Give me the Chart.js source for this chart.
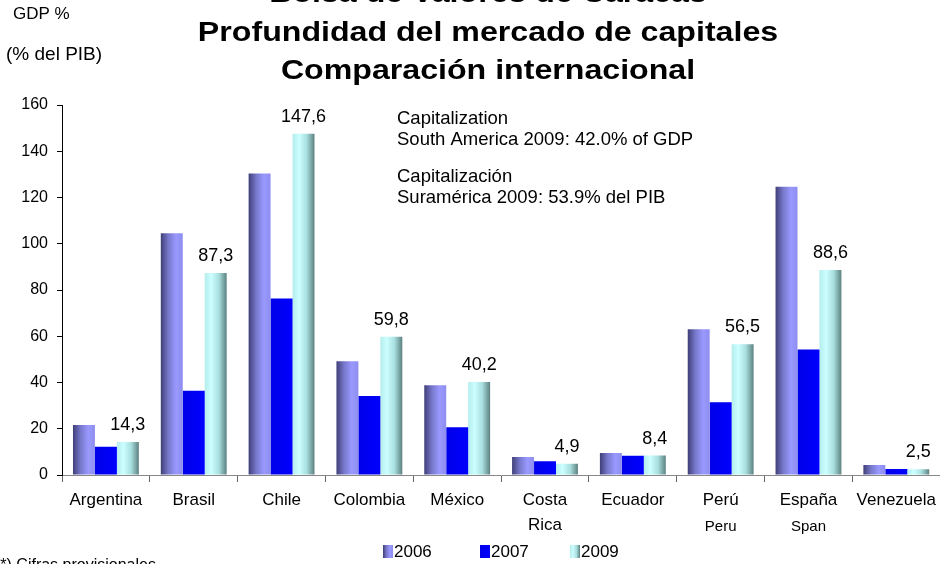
<!DOCTYPE html>
<html>
<head>
<meta charset="utf-8">
<script src="https://cdn.jsdelivr.net/npm/chart.js@4.4.1/dist/chart.umd.min.js"></script>
<style>
    html, body { margin: 0; padding: 0; background: #fff; overflow: hidden; }
    #wrap { width: 942px; height: 564px; }
</style>
</head>
<body>
<div id="wrap"><canvas id="chart" width="942" height="564"></canvas></div>
<script>
// datos del grafico
const categories = ["Argentina", "Brasil", "Chile", "Colombia", "México", ["Costa", "Rica"], "Ecuador", "Perú", "España", "Venezuela"];
const translations = ["", "", "", "", "", "", "", "Peru", "Span", ""];
const years = ["2006", "2007", "2009"];
const values2006 = [21.6, 104.5, 130.4, 49.2, 38.8, 7.8, 9.5, 63.0, 124.6, 4.3];
const values2007 = [12.2, 36.4, 76.3, 34.2, 20.7, 6.0, 8.3, 31.5, 54.3, 2.6];
const values2009 = [14.3, 87.3, 147.6, 59.8, 40.2, 4.9, 8.4, 56.5, 88.6, 2.5];
const yTicks = [0, 20, 40, 60, 80, 100, 120, 140, 160];

const titleLines = ["Bolsa de Valores de Caracas", "Profundidad del mercado de capitales", "Comparación internacional"];
const noteLines = ["Capitalization", "South America 2009: 42.0% of GDP", "Capitalización", "Suramérica 2009: 53.9% del PIB"];
const footnote = "(*) Cifras provisionales";

const FONT = '"Liberation Sans", Arial, sans-serif';

// colores en degradado (izquierda -> derecha)
const gradients = [
    [[0, "#3f3f78"], [0.35, "#7878cc"], [0.7, "#9999ff"], [1, "#8e8ef0"]],
    [[0, "#0000e8"], [1, "#0000ff"]],
    [[0, "#b4ecec"], [0.3, "#ccffff"], [0.65, "#a8dede"], [1, "#5c8080"]]
];

function makeGradient(ctx, x0, x1, stops) {
    const g = ctx.createLinearGradient(x0, 0, x1, 0);
    stops.forEach(s => g.addColorStop(s[0], s[1]));
    return g;
}

function barColor(dsIndex) {
    return function (context) {
        const chart = context.chart;
        const xs = chart.scales.x;
        if (!xs || !chart.chartArea || context.dataIndex === undefined) return gradients[dsIndex][1][1];
        const cat = xs.width / categories.length;
        const barW = cat * 0.75 / 3;
        const cx = xs.getPixelForValue(context.dataIndex) + (dsIndex - 1) * barW;
        return makeGradient(chart.ctx, cx - barW / 2, cx + barW / 2, gradients[dsIndex]);
    };
}

// textos, etiquetas y leyenda
const textPlugin = {
    id: "texts",
    afterDatasetsDraw(chart) {
        const c = chart.ctx;
        c.save();
        c.fillStyle = "#000";
        c.textAlign = "center";
        c.textBaseline = "middle";
        c.font = "18px " + FONT;
        const meta = chart.getDatasetMeta(2);
        meta.data.forEach((bar, i) => {
            const label = values2009[i].toFixed(1).replace(".", ",");
            c.fillText(label, bar.x, bar.y - 17);
        });
        c.restore();
    },
    afterDraw(chart) {
        const c = chart.ctx;
        const xs = chart.scales.x;
        c.save();
        c.fillStyle = "#000";

        // titulo (fuente algo ensanchada)
        c.textAlign = "center";
        c.textBaseline = "alphabetic";
        c.font = "bold 27px " + FONT;
        [2, 40.7, 79.3].forEach((y, i) => {
            c.save();
            c.translate(488, y);
            c.scale(1.19, 1);
            c.fillText(titleLines[i], 0, 0);
            c.restore();
        });

        c.textAlign = "left";
        c.font = "17px " + FONT;
        c.fillText("GDP %", 13, 19.3);
        c.font = "19px " + FONT;
        c.fillText("(% del PIB)", 6, 60);
        c.font = "16px " + FONT;
        c.fillText(footnote, -5, 570);

        c.textBaseline = "middle";
        c.font = "18.5px " + FONT;
        c.fillText(noteLines[0], 397, 118.5);
        c.fillText(noteLines[1], 397, 140);
        c.fillText(noteLines[2], 397, 176.5);
        c.fillText(noteLines[3], 397, 198);

        // traducciones bajo las categorias
        c.textAlign = "center";
        c.font = "15px " + FONT;
        translations.forEach((t, i) => {
            if (t) c.fillText(t, xs.getPixelForValue(i), 527);
        });

        // leyenda
        c.textAlign = "left";
        c.font = "17px " + FONT;
        const legendX = [383, 480, 570];
        years.forEach((y, i) => {
            const bx = legendX[i];
            c.fillStyle = makeGradient(c, bx, bx + 10, gradients[i]);
            c.fillRect(bx, 545, 10, 13);
            c.fillStyle = "#000";
            c.fillText(y, bx + 11, 552);
        });
        c.restore();
    }
};

const chart = new Chart(document.getElementById("chart"), {
    type: "bar",
    data: {
        labels: categories,
        datasets: [
            { label: years[0], data: values2006, backgroundColor: barColor(0) },
            { label: years[1], data: values2007, backgroundColor: barColor(1) },
            { label: years[2], data: values2009, backgroundColor: barColor(2) }
        ]
    },
    options: {
        responsive: false,
        animation: false,
        devicePixelRatio: 1,
        datasets: {
            bar: { categoryPercentage: 0.75, barPercentage: 1.0 }
        },
        layout: { padding: { top: 105, left: 0, right: 0, bottom: 29 } },
        plugins: {
            legend: { display: false },
            tooltip: { enabled: false }
        },
        scales: {
            x: {
                grid: { offset: true, drawOnChartArea: false, tickLength: 7, color: "#666" },
                border: { color: "#888" },
                ticks: {
                    color: "#000",
                    font: { family: FONT, size: 17, lineHeight: 1.47 },
                    padding: 6,
                    maxRotation: 0,
                    autoSkip: false
                },
                afterFit(scale) { scale.height = 60; }
            },
            y: {
                min: 0,
                max: 160,
                afterBuildTicks(scale) { scale.ticks = yTicks.map(v => ({ value: v })); },
                grid: { drawOnChartArea: false, tickLength: 5, color: "#000" },
                border: { color: "#000" },
                ticks: {
                    color: "#000",
                    font: { family: FONT, size: 16 },
                    padding: 9
                },
                afterFit(scale) { scale.width = 62; }
            }
        }
    },
    plugins: [textPlugin]
});
</script>
</body>
</html>
